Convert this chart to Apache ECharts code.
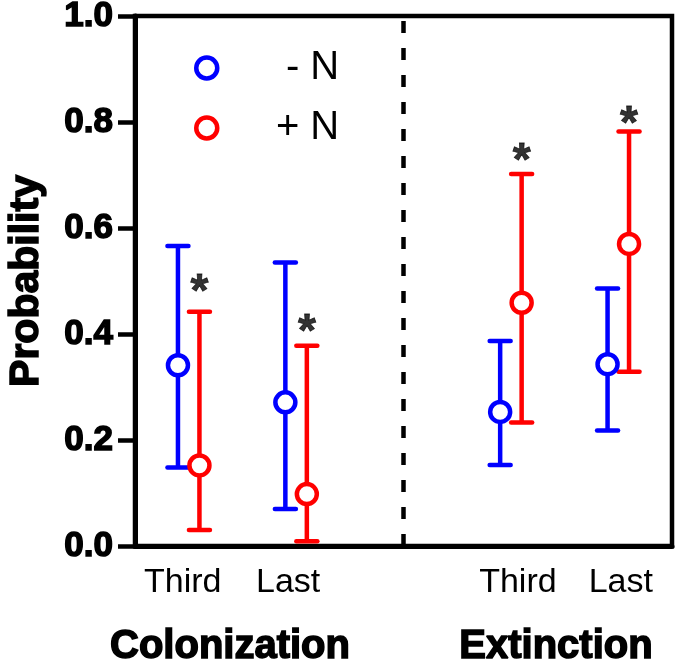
<!DOCTYPE html>
<html>
<head>
<meta charset="utf-8">
<script src="https://cdn.jsdelivr.net/npm/echarts@6/dist/echarts.min.js"></script>
<style>
html,body{margin:0;padding:0;background:#fff;}
#chart{width:677px;height:668px;}
</style>
</head>
<body>
<div id="chart"></div>
<script>
// ---- data ----
var categories = ['Third', 'Last', 'Third', 'Last'];
var groups = ['Colonization', 'Extinction'];
var slots = [0.5, 1.5, 3.5, 4.5];          // category slot centres on a 0..5 axis
var dividerAt = 2.5;                        // dashed separator between the groups
var seriesNames = ['- N', '+ N'];
var minusN     = [0.341, 0.271, 0.253, 0.343];
var minusNLow  = [0.148, 0.070, 0.153, 0.218];
var minusNHigh = [0.566, 0.535, 0.387, 0.486];
var plusN      = [0.152, 0.098, 0.459, 0.570];
var plusNLow   = [0.030, 0.009, 0.233, 0.329];
var plusNHigh  = [0.442, 0.378, 0.702, 0.782];
var sigY       = [0.496, 0.421, 0.742, 0.812];   // asterisk positions
var yTicks = [0, 0.2, 0.4, 0.6, 0.8, 1.0];

var BLUE = '#0000ff', RED = '#ff0000';
var FONT = '"Liberation Sans", Arial, Helvetica, sans-serif';
var dodge = 0.1;

function pts(vals, off) {
  return vals.map(function (v, i) { return [slots[i] + off, v]; });
}
function bars(lo, hi, off) {
  return lo.map(function (v, i) { return [slots[i] + off, v, hi[i]]; });
}
function errRender(color) {
  return function (params, api) {
    var x = api.value(0);
    var pl = api.coord([x, api.value(1)]);
    var ph = api.coord([x, api.value(2)]);
    var hw = 10.5;
    var st = { stroke: color, lineWidth: 4.5, lineCap: 'round' };
    return {
      type: 'group',
      children: [
        { type: 'line', shape: { x1: pl[0], y1: pl[1], x2: ph[0], y2: ph[1] }, style: { stroke: color, lineWidth: 4.5 } },
        { type: 'line', shape: { x1: ph[0] - hw, y1: ph[1], x2: ph[0] + hw, y2: ph[1] }, style: st },
        { type: 'line', shape: { x1: pl[0] - hw, y1: pl[1], x2: pl[0] + hw, y2: pl[1] }, style: st }
      ]
    };
  };
}

// category label lookup with small per-label nudges
var labelMap = {};
var labelRich = {};
var nudges = [12, 16, -14, -5];
slots.forEach(function (s, i) {
  labelMap[s.toFixed(1)] = '{c' + i + '|' + categories[i] + '}';
  var pad = nudges[i] > 0 ? [0, nudges[i], 0, 0] : [0, 0, 0, -nudges[i]];
  labelRich['c' + i] = { fontSize: 34, fontFamily: FONT, color: '#000', padding: pad };
});

var chart = echarts.init(document.getElementById('chart'), null, { renderer: 'canvas' });
var option = {
  animation: false,
  backgroundColor: '#fff',
  grid: {
    left: 135, right: 5, top: 16, bottom: 122,
    show: true, borderColor: '#000', borderWidth: 4.5,
    containLabel: false, outerBoundsMode: 'none'
  },
  legend: {
    data: seriesNames,
    orient: 'vertical',
    left: 194, top: 48, padding: 0,
    itemWidth: 21, itemHeight: 21, itemGap: 20,
    itemStyle: { borderWidth: 4.5 },
    formatter: function (n) { return '{r|' + n + '}'; },
    textStyle: {
      color: '#000', fontFamily: FONT, fontSize: 40,
      rich: { r: { width: 117, align: 'right', fontSize: 40, fontFamily: FONT, color: '#000' } }
    }
  },
  xAxis: {
    type: 'value', min: 0, max: 5, interval: 0.5,
    splitLine: { show: false },
    axisTick: { show: false },
    axisLine: { show: true, lineStyle: { color: '#000', width: 5 } },
    axisLabel: {
      margin: 20, showMinLabel: true, showMaxLabel: true,
      formatter: function (v) { return labelMap[v.toFixed(1)] || ''; },
      rich: labelRich
    }
  },
  yAxis: {
    type: 'value', min: yTicks[0], max: yTicks[yTicks.length - 1], interval: 0.2,
    name: 'Probability',
    nameLocation: 'middle', nameRotate: 90, nameGap: 88,
    nameTextStyle: { fontSize: 41, fontWeight: 'bold', fontFamily: FONT, color: '#000', textBorderColor: '#000', textBorderWidth: 1.5 },
    splitLine: { show: false },
    axisLine: { show: true, lineStyle: { color: '#000', width: 5 } },
    axisTick: { show: true, inside: false, length: 17, lineStyle: { color: '#000', width: 4.5 } },
    axisLabel: {
      margin: 22, color: '#000', fontSize: 35, fontWeight: 'bold', fontFamily: FONT,
      textBorderColor: '#000', textBorderWidth: 1.5,
      formatter: function (v) { return v.toFixed(1); }
    }
  },
  graphic: [
    { type: 'text', x: 230, y: 647, style: { text: groups[0], font: 'bold 40px ' + FONT, fill: '#000', stroke: '#000', lineWidth: 1.5, textAlign: 'center', textVerticalAlign: 'middle' } },
    { type: 'text', x: 556, y: 647, style: { text: groups[1], font: 'bold 40px ' + FONT, fill: '#000', stroke: '#000', lineWidth: 1.5, textAlign: 'center', textVerticalAlign: 'middle' } }
  ],
  series: [
    {
      name: 'errMinus', type: 'custom', renderItem: errRender(BLUE),
      data: bars(minusNLow, minusNHigh, -dodge), z: 2, silent: true,
      encode: { x: 0, y: [1, 2] },
      markLine: {
        silent: true, symbol: 'none', label: { show: false },
        lineStyle: { color: '#000', width: 4.5, type: [12, 15] },
        data: [{ xAxis: dividerAt }]
      }
    },
    {
      name: 'errPlus', type: 'custom', renderItem: errRender(RED),
      data: bars(plusNLow, plusNHigh, dodge), z: 2, silent: true,
      encode: { x: 0, y: [1, 2] }
    },
    {
      name: seriesNames[0], type: 'scatter', symbol: 'circle', symbolSize: 20, z: 5,
      itemStyle: { color: '#fff', borderColor: BLUE, borderWidth: 4.5, opacity: 1 },
      data: pts(minusN, -dodge)
    },
    {
      name: seriesNames[1], type: 'scatter', symbol: 'circle', symbolSize: 20, z: 5,
      itemStyle: { color: '#fff', borderColor: RED, borderWidth: 4.5, opacity: 1 },
      data: pts(plusN, dodge)
    },
    {
      name: 'sig', type: 'scatter', symbolSize: 0, z: 6, silent: true,
      itemStyle: { color: '#000' },
      data: pts(sigY, dodge),
      label: {
        show: true, position: 'inside', formatter: '*', offset: [0, 10],
        color: '#000', fontSize: 46, fontWeight: 'bold', fontFamily: FONT,
        textBorderColor: '#000', textBorderWidth: 0.8
      }
    }
  ]
};
chart.setOption(option);
</script>
</body>
</html>
